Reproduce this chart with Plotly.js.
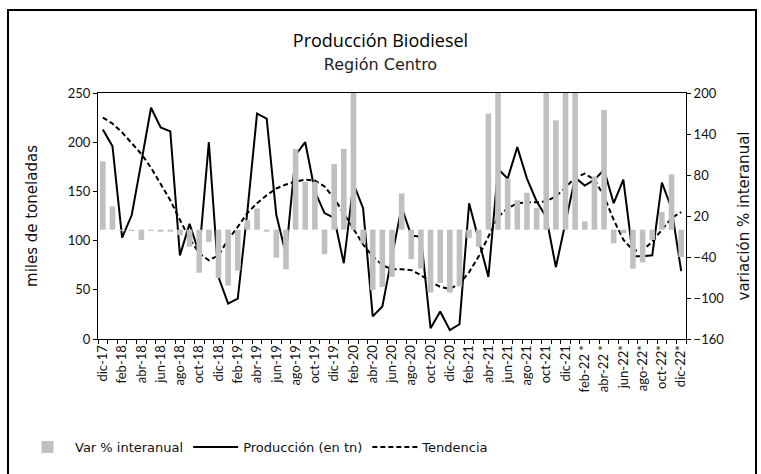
<!DOCTYPE html>
<html>
<head>
<meta charset="utf-8">
<script src="https://cdn.plot.ly/plotly-3.0.1.min.js"></script>
<style>
  html, body { margin: 0; padding: 0; background: #fff; }
  #wrap { position: relative; width: 761px; height: 474px; overflow: hidden; }
  #chart { width: 761px; height: 474px; }
  #frame { position: absolute; left: 7px; top: 9px; width: 750px; height: 480px;
           border: 2px solid #000; box-sizing: border-box; pointer-events: none; }
</style>
</head>
<body>
<div id="wrap">
  <div id="chart"></div>
  <div id="frame"></div>
</div>
<script>
// Months (dic-17 .. dic-22)
const meses = [
  "dic-17",
  "ene-18","feb-18","mar-18","abr-18","may-18","jun-18","jul-18","ago-18","sep-18","oct-18","nov-18","dic-18",
  "ene-19","feb-19","mar-19","abr-19","may-19","jun-19","jul-19","ago-19","sep-19","oct-19","nov-19","dic-19",
  "ene-20","feb-20","mar-20","abr-20","may-20","jun-20","jul-20","ago-20","sep-20","oct-20","nov-20","dic-20",
  "ene-21","feb-21","mar-21","abr-21","may-21","jun-21","jul-21","ago-21","sep-21","oct-21","nov-21","dic-21",
  "ene-22 *","feb-22 *","mar-22 *","abr-22 *","may-22*","jun-22*","jul-22*","ago-22*","sep-22*","oct-22*","nov-22*","dic-22*"
];

// Tick labels shown (every other month)
const etiquetas = [
  "dic-17","feb-18","abr-18","jun-18","ago-18","oct-18","dic-18","feb-19","abr-19","jun-19",
  "ago-19","oct-19","dic-19","feb-20","abr-20","jun-20","ago-20","oct-20","dic-20","feb-21",
  "abr-21","jun-21","ago-21","oct-21","dic-21","feb-22 *","abr-22 *","jun-22*","ago-22*","oct-22*","dic-22*"
];

// Producción (miles de toneladas)
const produccion = [
  213,
  196,103,126,180,235,215,211,85,117,87,200,63,
  36,41,130,229,224,126,86,187,200,150,128,123,
  77,158,133,23,33,84,134,105,104,11,28,9,
  15,138,100,63,173,163,195,163,140,124,73,118,
  164,156,162,172,138,162,84,84,85,159,133,69
];

// Tendencia (miles de toneladas)
const tendencia = [
  225,
  219,210,199,188,174,158,141,121,102,87,80,85,
  101,114,128,138,146,153,157,160,162,161,155,143,
  128,112,96,84,75,71,71,70,65,58,53,51,
  56,68,84,104,124,133,138,139,139,140,145,154,
  164,168,162,145,121,101,90,90,99,111,123,129
];

// Var % interanual
const variacion = [
  100,
  34,-2,-2,-15,-2,-3,-3,-8,-25,-63,-18,-71,
  -82,-60,14,31,-3,-41,-58,118,70,70,-36,96,
  118,290,-20,-88,-84,-69,53,-43,-57,-92,-78,-92,
  -83,-12,-25,170,310,75,43,54,32,240,160,280,
  260,12,78,175,-20,-5,-57,-48,-15,26,81,-40
];

const ticksDer = [-160,-100,-40,20,80,140,200];

const ticktextAll = meses.map((m, i) => (i % 2 === 0 ? etiquetas[i / 2] : ""));

const FONT = "Lato, 'Open Sans', sans-serif";
const WIDE = "'DejaVu Sans', sans-serif";

const traces = [
  {
    type: "bar", name: "Var % interanual", x: meses, y: variacion, yaxis: "y2",
    marker: { color: "#c0c0c0", line: { width: 0 } }
  },
  {
    type: "scatter", mode: "lines", name: "Producción (en tn)", x: meses, y: produccion,
    line: { color: "#000", width: 2 }
  },
  {
    type: "scatter", mode: "lines", name: "Tendencia", x: meses, y: tendencia,
    line: { color: "#000", width: 2, dash: "5px,3px" }
  }
];

const layout = {
  width: 761, height: 474,
  margin: { l: 98, r: 75, t: 93, b: 135 },
  paper_bgcolor: "#fff", plot_bgcolor: "#fff",
  font: { family: FONT, color: "#111", size: 12 },
  bargap: 0.42,
  showlegend: true,
  title: {
    text: "Producción Biodiesel<br><span style='font-family:DejaVu Sans;font-size:16px;color:#222'>Región Centro</span>",
    font: { family: "'Open Sans', sans-serif", size: 18, color: "#000" },
    x: 0.5, xanchor: "center", xref: "container",
    y: 1 - 47 / 474, yanchor: "top", yref: "container"
  },
  xaxis: {
    type: "category", categoryorder: "array", categoryarray: meses,
    range: [-0.5, meses.length - 0.5],
    tickmode: "array", tickvals: meses, ticktext: ticktextAll,
    tickson: "boundaries", ticks: "outside", ticklen: 4, tickcolor: "#000",
    tickangle: -90, tickfont: { size: 13, family: FONT, color: "#111" },
    showline: true, linecolor: "#000", linewidth: 1, mirror: true,
    showgrid: false, zeroline: false, automargin: false
  },
  yaxis: {
    range: [0, 250], dtick: 50, tick0: 0,
    ticks: "outside", ticklen: 4, tickcolor: "#000",
    tickfont: { size: 13, family: FONT, color: "#111" },
    showline: true, linecolor: "#000", linewidth: 1,
    showgrid: false, zeroline: false, automargin: false,
    title: { text: "miles de toneladas", font: { size: 15, family: WIDE, color: "#111" }, standoff: 26 }
  },
  yaxis2: {
    overlaying: "y", side: "right",
    range: [-160, 200], tickmode: "array", tickvals: ticksDer,
    ticks: "outside", ticklen: 4, tickcolor: "#000",
    tickfont: { size: 13, family: FONT, color: "#111" },
    showline: true, linecolor: "#000", linewidth: 1,
    showgrid: false, zeroline: false, automargin: false,
    title: { text: "variación % interanual", font: { size: 15, family: WIDE, color: "#111" }, standoff: 15 }
  },
  legend: {
    orientation: "h", xref: "container", yref: "container",
    x: 20 / 761, xanchor: "left", y: 1 - 447 / 474, yanchor: "middle",
    font: { size: 13, family: WIDE, color: "#111" },
    itemwidth: 45, tracegroupgap: 0, bgcolor: "rgba(0,0,0,0)"
  }
};

Plotly.newPlot("chart", traces, layout, { displayModeBar: false, staticPlot: true });
</script>
</body>
</html>
